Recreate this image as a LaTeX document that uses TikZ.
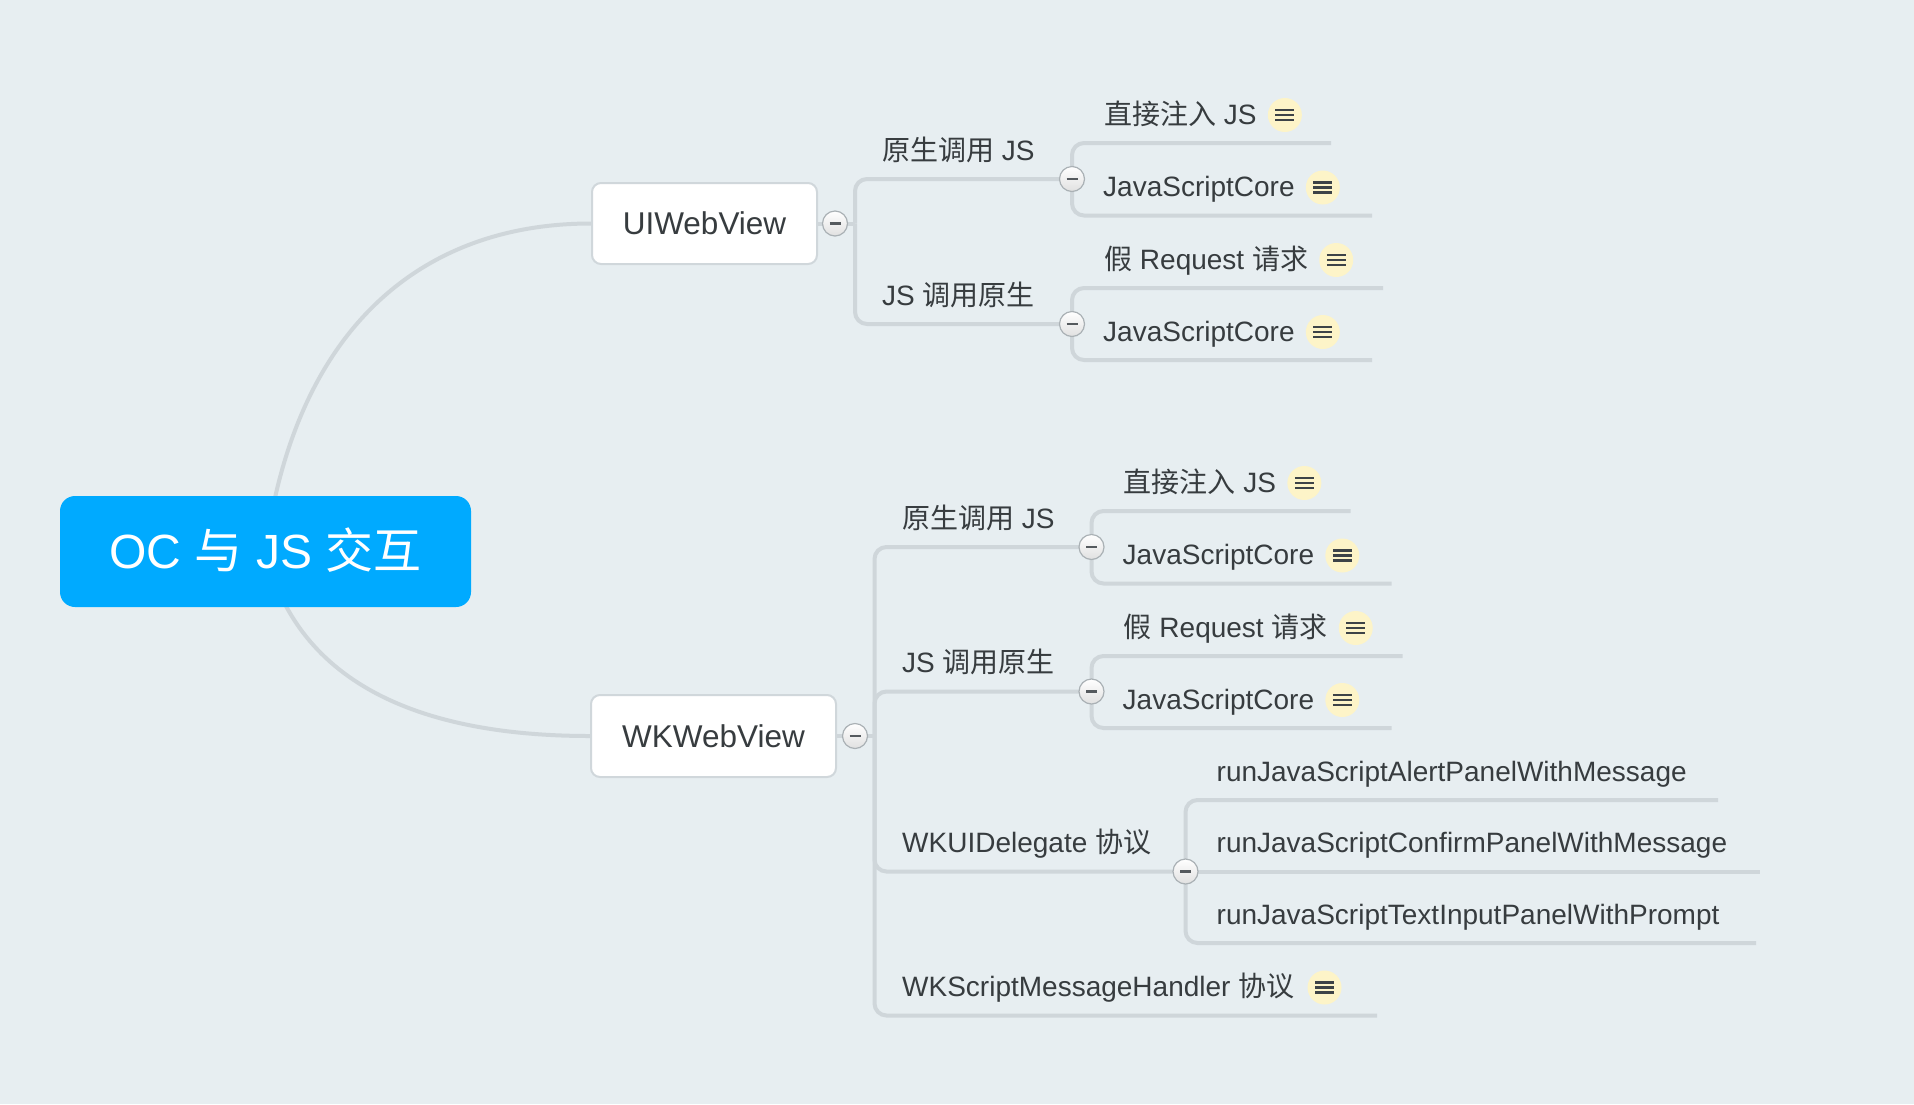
\documentclass[tikz,border=0pt]{standalone}
\usepackage{fontspec}
\setmainfont{Liberation Sans}
\newfontfamily\cjk{Noto Sans CJK SC}
\newcommand{\zh}[1]{{\cjk #1}}
\definecolor{bgcol}{RGB}{231,238,241}
\definecolor{linecol}{RGB}{207,214,218}
\definecolor{rootcol}{RGB}{0,170,255}
\definecolor{txtcol}{RGB}{55,60,63}
\definecolor{boxborder}{RGB}{208,215,219}
\definecolor{notefill}{RGB}{253,244,200}
\definecolor{noteline}{RGB}{61,67,71}
\definecolor{btnborder}{RGB}{170,177,181}
\definecolor{btnline}{RGB}{85,90,94}
\pgfdeclarelayer{bgfill}
\pgfdeclarelayer{lines}
\pgfsetlayers{bgfill,lines,main}
\tikzset{
  lbl/.style={inner sep=0pt, anchor=base west, text=txtcol, font=\fontsize{28pt}{34pt}\selectfont},
  mainbox/.style={draw=boxborder, line width=2pt, fill=white, rounded corners=9pt, inner sep=0pt,
    text=txtcol, font=\fontsize{31.5pt}{38pt}\selectfont, text height=22.5pt, text depth=0pt},
  rootbox/.style={fill=rootcol, rounded corners=15pt, inner sep=0pt, text=white,
    font=\fontsize{48pt}{56pt}\selectfont, text height=34pt, text depth=0pt},
  conn/.style={draw=linecol, line width=4pt, rounded corners=12pt},
  btn/.style={circle, minimum size=25pt, inner sep=0pt, draw=btnborder, line width=1.2pt,
    top color=white, bottom color=black!12,
    path picture={\draw[btnline, line width=2.6pt]
      ([xshift=-5.5pt]path picture bounding box.center) -- ([xshift=5.5pt]path picture bounding box.center);}},
  noteicon/.style={circle, minimum size=34pt, inner sep=0pt, fill=notefill,
    path picture={\foreach \dy in {-5pt,0pt,5pt}
      \draw[noteline, line width=2.2pt]
      ([shift={(-9.5pt,\dy)}]path picture bounding box.center) -- ([shift={(9.5pt,\dy)}]path picture bounding box.center);}}
}
\begin{document}
\begin{tikzpicture}[x=1pt, y=-1pt]
\useasboundingbox (0,0) rectangle (1914,1104);
\begin{pgfonlayer}{bgfill}
\fill[bgcol] (0,0) rectangle (1914,1104);
\end{pgfonlayer}

% root and main topics
\node[rootbox, minimum width=411pt, minimum height=111pt] (root) at (265.5,551.5) {OC \zh{与} JS \zh{交互}};
\node[mainbox, minimum width=225pt, minimum height=81pt] (ui) at (704.5,223.5) {UIWebView};
\node[mainbox, minimum width=245pt, minimum height=82pt] (wk) at (713.5,736) {WKWebView};

% UIWebView branch
\node[btn] (uic) at (835,223.5) {};
\coordinate (uij) at (855,223.5);
\node[lbl] (ui1) at (882,160) {\zh{原生调用} JS};
\node[btn] (ui1c) at (1072,179) {};
\node[lbl] (ui2) at (882,305) {JS \zh{调用原生}};
\node[btn] (ui2c) at (1072,324) {};

\node[lbl] (ui11) at (1104,124) {\zh{直接注入} JS};
\node[noteicon] (ui11n) at ([shift={(28,-9)}]ui11.base east) {};
\coordinate (ui11e) at (1331,143);
\node[lbl] (ui12) at (1103,196.5) {JavaScriptCore};
\node[noteicon] (ui12n) at ([shift={(28,-9)}]ui12.base east) {};
\coordinate (ui12e) at (1372,215.5);
\node[lbl] (ui21) at (1104,269) {\zh{假} Request \zh{请求}};
\node[noteicon] (ui21n) at ([shift={(28,-9)}]ui21.base east) {};
\coordinate (ui21e) at (1383,288);
\node[lbl] (ui22) at (1103,341) {JavaScriptCore};
\node[noteicon] (ui22n) at ([shift={(28,-9)}]ui22.base east) {};
\coordinate (ui22e) at (1372,360);

% WKWebView branch
\node[btn] (wkc) at (855,736) {};
\coordinate (wkj) at (874.5,736);
\node[lbl] (wk1) at (902,528) {\zh{原生调用} JS};
\node[btn] (wk1c) at (1091.5,547) {};
\node[lbl] (wk2) at (902,672.5) {JS \zh{调用原生}};
\node[btn] (wk2c) at (1091.5,691.5) {};
\node[lbl] (wk3) at (902,852.5) {WKUIDelegate \zh{协议}};
\node[btn] (wk3c) at (1185.5,871.5) {};
\node[lbl] (wk4) at (902,996.5) {WKScriptMessageHandler \zh{协议}};
\node[noteicon] (wk4n) at ([shift={(30,-9)}]wk4.base east) {};
\coordinate (wk4e) at (1377,1015.5);

\node[lbl] (wk11) at (1123.5,492) {\zh{直接注入} JS};
\node[noteicon] (wk11n) at ([shift={(28,-9)}]wk11.base east) {};
\coordinate (wk11e) at (1350.5,511);
\node[lbl] (wk12) at (1122.5,564.5) {JavaScriptCore};
\node[noteicon] (wk12n) at ([shift={(28,-9)}]wk12.base east) {};
\coordinate (wk12e) at (1391.5,583.5);
\node[lbl] (wk21) at (1123.5,637) {\zh{假} Request \zh{请求}};
\node[noteicon] (wk21n) at ([shift={(28,-9)}]wk21.base east) {};
\coordinate (wk21e) at (1402.5,656);
\node[lbl] (wk22) at (1122.5,709) {JavaScriptCore};
\node[noteicon] (wk22n) at ([shift={(28,-9)}]wk22.base east) {};
\coordinate (wk22e) at (1391.5,728);

\node[lbl] (wk31) at (1216.5,781) {runJavaScriptAlertPanelWithMessage};
\coordinate (wk31e) at (1718,800);
\node[lbl] (wk32) at (1216.5,852.5) {runJavaScriptConfirmPanelWithMessage};
\coordinate (wk32e) at (1760,871.5);
\node[lbl] (wk33) at (1216.5,924) {runJavaScriptTextInputPanelWithPrompt};
\coordinate (wk33e) at (1756,943);

% connectors
\begin{pgfonlayer}{lines}
\draw[conn] (root.center) .. controls (295,330) and (420,223.5) .. (ui.west);
\draw[conn] (root.center) .. controls (300,695) and (440,736) .. (wk.west);

\draw[conn] (ui.east) -- (uic.center) -- (uij);
\draw[conn] (uij) |- (ui1c.center);
\draw[conn] (uij) |- (ui2c.center);
\draw[conn] (ui1c.center) |- (ui11e);
\draw[conn] (ui1c.center) |- (ui12e);
\draw[conn] (ui2c.center) |- (ui21e);
\draw[conn] (ui2c.center) |- (ui22e);

\draw[conn] (wk.east) -- (wkc.center) -- (wkj);
\draw[conn] (wkj) |- (wk1c.center);
\draw[conn] (wkj) |- (wk2c.center);
\draw[conn] (wkj) |- (wk3c.center);
\draw[conn] (wkj) |- (wk4e);
\draw[conn] (wk1c.center) |- (wk11e);
\draw[conn] (wk1c.center) |- (wk12e);
\draw[conn] (wk2c.center) |- (wk21e);
\draw[conn] (wk2c.center) |- (wk22e);
\draw[conn] (wk3c.center) |- (wk31e);
\draw[conn] (wk3c.center) -- (wk32e);
\draw[conn] (wk3c.center) |- (wk33e);
\end{pgfonlayer}
\end{tikzpicture}
\end{document}
